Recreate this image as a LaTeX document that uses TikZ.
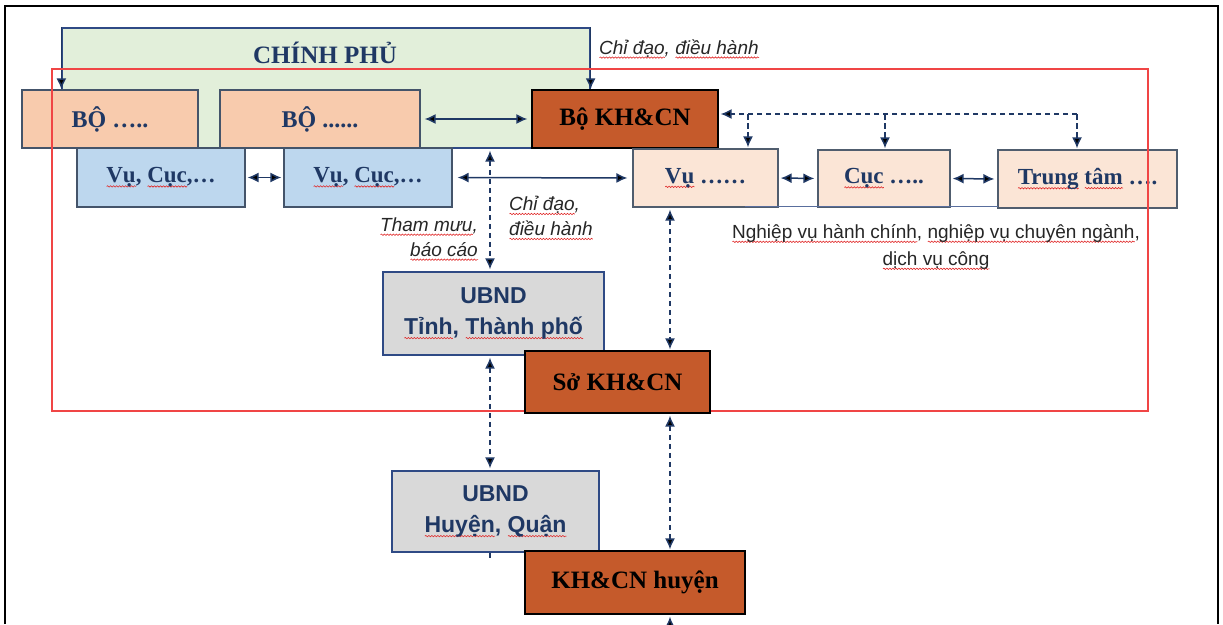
\documentclass[tikz,border=0pt]{standalone}
\usepackage{fontspec}
\setmainfont{Liberation Serif}
\setsansfont{Liberation Sans}
\usetikzlibrary{arrows.meta,decorations.pathmorphing}

\definecolor{navy}{HTML}{1F3864}
\definecolor{govgreen}{HTML}{E2EFDA}
\definecolor{bopeach}{HTML}{F8CBAD}
\definecolor{lightpeach}{HTML}{FBE5D6}
\definecolor{vcblue}{HTML}{BDD7EE}
\definecolor{rust}{HTML}{C55A2B}
\definecolor{ubgray}{HTML}{D9D9D9}
\definecolor{boxedge}{HTML}{44546A}
\definecolor{ubedge}{HTML}{2F4A85}
\definecolor{frame}{HTML}{F04545}
\definecolor{sqred}{HTML}{E02828}
\definecolor{labelgray}{HTML}{262626}

% wavy red underline under a word
\tikzset{sqline/.style={draw=sqred, line width=0.6pt, decorate,
  decoration={snake, amplitude=0.7pt, segment length=3pt}}}
\newlength\sqwd
\newcommand\sq[1]{\settowidth\sqwd{#1}%
  \rlap{\raisebox{-3.6pt}{\tikz[baseline=0pt]\draw[sqline] (0pt,0pt) -- (\sqwd,0pt);}}#1}

\begin{document}
\begin{tikzpicture}[x=1pt, y=-1pt,
  boxbase/.style={rectangle, inner sep=0pt, line width=1.2pt},
  ministry/.style={boxbase, draw=boxedge, fill=bopeach, text=navy,
    font=\bfseries\fontsize{24}{28}\selectfont},
  dept/.style={boxbase, draw=boxedge, fill=vcblue, text=navy,
    font=\bfseries\fontsize{23}{28}\selectfont},
  unit/.style={boxbase, draw=boxedge!80!gray, fill=lightpeach, text=navy,
    font=\bfseries\fontsize{23}{28}\selectfont},
  sci/.style={boxbase, draw=black, fill=rust, text=black,
    font=\bfseries\fontsize{25}{28}\selectfont},
  council/.style={boxbase, draw=ubedge, fill=ubgray, text=navy, align=center,
    font=\sffamily\bfseries\fontsize{23}{31}\selectfont},
  note/.style={text=labelgray, inner sep=0pt,
    font=\sffamily\itshape\fontsize{19}{25}\selectfont},
  conn/.style={draw=navy, line width=1.5pt},
  one/.style={conn, -{Latex[length=11pt,width=10pt]}},
  both/.style={conn, {Latex[length=11pt,width=10pt]}-{Latex[length=11pt,width=10pt]}},
  dsh/.style={dash pattern=on 5.5pt off 3.5pt}
]
\useasboundingbox (0,0) rectangle (1223,624);

% government block behind the ministries
\node[boxbase, draw=ubedge, fill=govgreen, minimum width=528pt, minimum height=120pt] (gov) at (326,88) {};
\node[text=navy, font=\bfseries\fontsize{25}{28}\selectfont] (govt) at (325,53) {CHÍNH PHỦ};

% ministries
\node[ministry, minimum width=176pt, minimum height=58pt] (bo1) at (110,119) {BỘ …..};
\node[ministry, minimum width=200pt, minimum height=58pt] (bo2) at (320,119) {BỘ ......};
\node[sci, minimum width=186pt, minimum height=58pt] (bkhcn) at (625,119) {Bộ KH\&CN};

% departments
\node[dept, minimum width=168pt, minimum height=59pt] (vc1) at (161,177.5) {\sq{Vụ}, \sq{Cục},…};
\node[dept, minimum width=168pt, minimum height=59pt] (vc2) at (368,177.5) {\sq{Vụ}, \sq{Cục},…};
\node[unit, minimum width=145pt, minimum height=58pt] (vu) at (705.5,178) {\sq{Vụ} ……};
\node[unit, minimum width=132pt, minimum height=57pt] (cuc) at (884,178.5) {\sq{Cục} …..};
\node[unit, minimum width=179pt, minimum height=58pt] (tt) at (1087.5,179) {\sq{Trung} \sq{tâm} ….};

% thin line along the bottom of the unit row
\coordinate (bl1) at (745,206.5);
\coordinate (bl2) at (998,206.5);
\draw[draw=ubedge!80!white, line width=1.3pt] (bl1) -- (bl2);

% provincial council
\node[council, minimum width=221pt, minimum height=83pt] (ubnd1) at (493.5,313.5) {UBND\\\sq{Tỉnh}, \sq{Thành phố}};

% direction from government
\draw[one] (gov.north west) -- (gov.west |- bo1.north);
\draw[one] (gov.north east) -- (gov.east |- bkhcn.north);

% solid links
\draw[both, shorten <=4pt, shorten >=4pt] (bo2.east) -- (bkhcn.west);
\draw[both, shorten <=2pt, shorten >=2pt] (vc1.east) -- (vc2.west);
\draw[both, shorten <=5pt, shorten >=5pt] (vc2.east) -- (vu.west);
\draw[both, shorten <=2pt, shorten >=3pt] (vu.east) -- (cuc.west);
\draw[both, shorten <=2pt, shorten >=3pt] (cuc.east) -- (tt.west);

% dashed links from the science ministry to its units
\coordinate (dr) at (1077,114);
\coordinate (d1) at (748,114);
\coordinate (d2) at (885,114);
\draw[one, dsh, shorten >=2pt] (dr) -- (bkhcn.east |- dr);
\draw[one, dsh, shorten >=1pt] (d1) -- (d1 |- vu.north);
\draw[one, dsh, shorten >=1pt] (d2) -- (d2 |- cuc.north);
\draw[one, dsh, shorten >=1pt] (dr) -- (dr |- tt.north);

% vertical dashed links
\coordinate (c490) at (490,0);
\coordinate (c670) at (670,0);
\draw[both, dsh, shorten <=2pt, shorten >=2pt] (c490 |- gov.south) -- (c490 |- ubnd1.north);

% outer red grouping frame
\draw[draw=frame, line width=1.5pt] (52,69) rectangle (1148,411);

% provincial science department and district level
\node[sci, minimum width=185pt, minimum height=62pt] (so) at (617.5,382) {Sở KH\&CN};
\node[council, minimum width=207pt, minimum height=81pt] (ubnd2) at (495.5,511.5) {UBND\\\sq{Huyện}, \sq{Quận}};
\node[sci, minimum width=220pt, minimum height=63pt] (huyen) at (635,582.5) {KH\&CN huyện};

\draw[both, dsh, shorten <=2pt, shorten >=1pt] (c670 |- vu.south) -- (c670 |- so.north);
\draw[both, dsh, shorten <=2pt, shorten >=2pt] (c490 |- ubnd1.south) -- (c490 |- ubnd2.north);
\draw[both, dsh, shorten <=2pt, shorten >=1pt] (c670 |- so.south) -- (c670 |- huyen.north);
\coordinate (bot) at (670,632);
\draw[one, dsh, shorten >=2pt] (bot) -- (c670 |- huyen.south);
\draw[conn, dsh] (c490 |- ubnd2.south) -- ++(0,6);

% labels
\node[note, anchor=west] (lbtop) at (599,49) {\sq{Chỉ đạo}, \sq{điều hành}};
\node[note, anchor=east, align=right] (lbadv) at (478,239) {\sq{Tham mưu},\\\sq{báo cáo}};
\node[note, anchor=west, align=left] (lbdir) at (509,218) {\sq{Chỉ đạo},\\\sq{điều hành}};
\node[note, font=\sffamily\fontsize{19}{27}\selectfont, align=center] (lbwork) at (936,247)
  {\sq{Nghiệp vụ hành chính}, \sq{nghiệp vụ chuyên ngành},\\\sq{dịch vụ công}};

% page frame
\draw[line width=1.8pt] (5,624) -- (5,6) -- (1218,6) -- (1218,624);
\end{tikzpicture}
\end{document}
